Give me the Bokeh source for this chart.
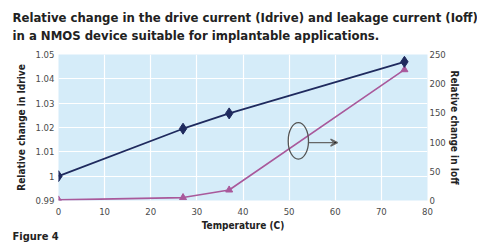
from bokeh.plotting import figure
from bokeh.models import Range1d, LinearAxis, Title, Ellipse, Arrow, VeeHead, FixedTicker, ColumnDataSource
from bokeh.embed import file_html
from bokeh.resources import INLINE

temperature = [0, 27, 37, 75]
idrive = [1.0, 1.0195, 1.0258, 1.047]
ioff = [1, 5, 18, 224]
left_ticks = [0.99, 1.0, 1.01, 1.02, 1.03, 1.04, 1.05]
left_labels = ["0.99", "1", "1.01", "1.02", "1.03", "1.04", "1.05"]
right_ticks = [0, 50, 100, 150, 200, 250]
x_ticks = [0, 10, 20, 30, 40, 50, 60, 70, 80]

TICK_FONT = "'DejaVu Sans Condensed', 'Liberation Sans', sans-serif"
BOLD_FONT = "'DejaVu Sans Condensed', Roboto, sans-serif"

p = figure(width=477, height=250, output_backend="svg", toolbar_location=None,
           x_range=Range1d(0, 80), y_range=Range1d(0.99, 1.05),
           min_border_left=58, min_border_right=50, min_border_top=54, min_border_bottom=50)
p.extra_y_ranges = {"ioff": Range1d(0, 250)}
p.background_fill_color = "#d5ecf9"
p.border_fill_color = "white"
p.outline_line_color = None

p.xgrid.ticker = FixedTicker(ticks=x_ticks)
p.ygrid.ticker = FixedTicker(ticks=left_ticks)
p.xgrid.grid_line_color = "white"
p.ygrid.grid_line_color = "white"
p.xgrid.grid_line_width = 1.2
p.ygrid.grid_line_width = 1.2

def style_axis(ax, standoff, label_standoff):
    ax.axis_line_color = None
    ax.major_tick_line_color = None
    ax.minor_tick_line_color = None
    ax.major_tick_out = 0
    ax.major_tick_in = 0
    ax.minor_tick_out = 0
    ax.major_label_text_font = TICK_FONT
    ax.major_label_text_font_size = "9.5px"
    ax.major_label_text_color = "#4a4a4a"
    ax.axis_label_text_font = BOLD_FONT
    ax.axis_label_text_font_style = "bold"
    ax.axis_label_text_font_size = "10px"
    ax.axis_label_text_color = "#222222"
    ax.major_label_standoff = label_standoff
    ax.axis_label_standoff = standoff

xa = p.xaxis[0]
xa.ticker = FixedTicker(ticks=x_ticks)
xa.axis_label = "Temperature (C)"
style_axis(xa, 2, 7)

ya = p.yaxis[0]
ya.ticker = FixedTicker(ticks=left_ticks)
ya.major_label_overrides = {t: l for t, l in zip(left_ticks, left_labels)}
ya.axis_label = "Relative change in Idrive"
style_axis(ya, 5, 4)

ra = LinearAxis(y_range_name="ioff", ticker=FixedTicker(ticks=right_ticks),
                axis_label="Relative change in Ioff")
style_axis(ra, 0, 2)
p.add_layout(ra, "right")

src = ColumnDataSource(dict(t=temperature, idrive=idrive, ioff=ioff))
p.line("t", "ioff", source=src, y_range_name="ioff", line_color="#a9599b", line_width=1.6)
p.scatter("t", "ioff", source=src, y_range_name="ioff", marker="triangle", size=7,
          fill_color="#a9599b", line_color="#a9599b")
p.line("t", "idrive", source=src, line_color="#1f2a5e", line_width=1.8)
p.scatter("t", "idrive", source=src, marker="diamond", size=11,
          fill_color="#1f2a5e", line_color="#1f2a5e")

# annotation: ellipse around the Ioff curve with arrow to the right axis
ell_x, ell_y, ell_w, ell_h = 52, 1.0145, 4.4, 0.015
p.add_glyph(ColumnDataSource(dict(x=[ell_x], y=[ell_y])),
            Ellipse(x="x", y="y", width=ell_w, height=ell_h, fill_color=None,
                    line_color="#555555", line_width=1.3))
arr_x0, arr_x1, arr_y = 54.3, 60.5, 1.0138
p.add_layout(Arrow(x_start=arr_x0, y_start=arr_y, x_end=arr_x1, y_end=arr_y,
                   line_color="#666666", line_width=1.3,
                   end=VeeHead(size=7, line_color="#666666", line_width=1.3)))

title_style = dict(text_font=BOLD_FONT, text_font_style="bold", text_color="#222222",
                   align="left", offset=-46)
spacer = Title(text=" ", text_font_size="1px", standoff=8, **title_style)
t2 = Title(text="in a NMOS device suitable for implantable applications.",
           text_font_size="13px", standoff=1, **title_style)
t1 = Title(text="Relative change in the drive current (Idrive) and leakage current (Ioff)",
           text_font_size="13px", standoff=2, **title_style)
p.add_layout(spacer, "above")
p.add_layout(t2, "above")
p.add_layout(t1, "above")
fig = Title(text="Figure 4", text_font_size="11px", standoff=-7, vertical_align="top",
            **title_style)
p.add_layout(fig, "below")

open("out.html", "w").write(file_html(p, INLINE))
